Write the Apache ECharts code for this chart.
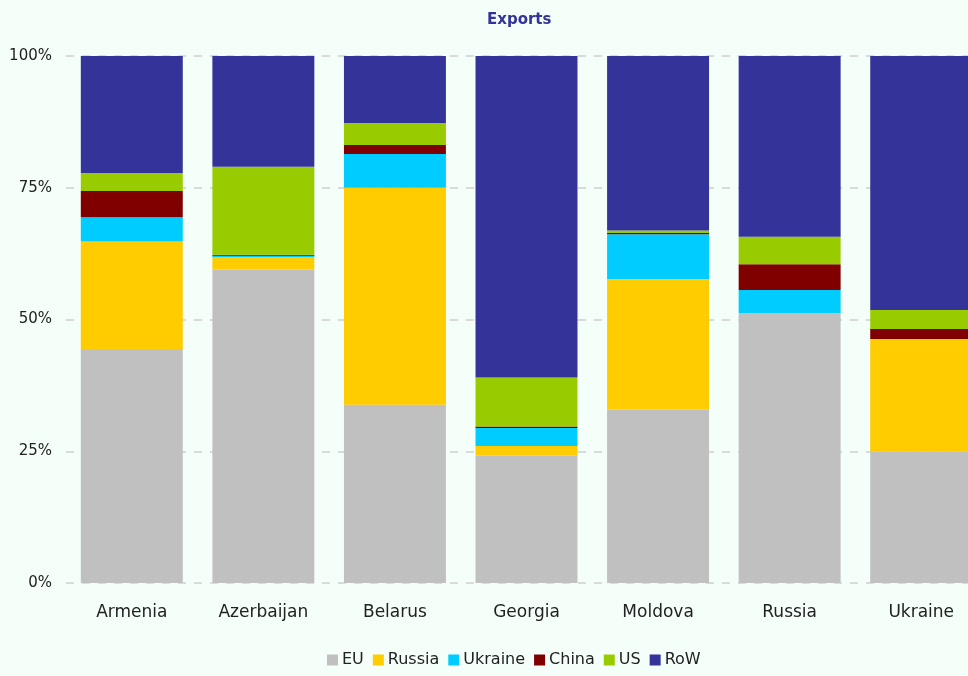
<!DOCTYPE html>
<html>
<head>
<meta charset="utf-8">
<script src="https://cdn.jsdelivr.net/npm/echarts@6/dist/echarts.min.js"></script>
<style>
html,body{margin:0;padding:0;background:#F5FFFA;}
#chart{width:968px;height:676px;}
</style>
</head>
<body>
<div id="chart"></div>
<script>
const categories = ['Armenia', 'Azerbaijan', 'Belarus', 'Georgia', 'Moldova', 'Russia', 'Ukraine'];
const seriesNames = ['EU', 'Russia', 'Ukraine', 'China', 'US', 'RoW'];
const eu      = [44.4, 59.5, 33.8, 24.2, 32.9, 51.2, 25.0];
const russia  = [20.4,  2.3, 41.2,  1.8, 24.8,  0.0, 21.3];
const ukraine = [ 4.6,  0.3,  6.4,  3.4,  8.5,  4.4,  0.0];
const china   = [ 5.0,  0.2,  1.7,  0.3,  0.2,  4.9,  1.9];
const us      = [ 3.4, 16.7,  4.2,  9.3,  0.5,  5.2,  3.6];
const row     = [22.2, 21.0, 12.7, 61.0, 33.1, 34.3, 48.2];
const yTicks = [0, 25, 50, 75, 100];
const colors = ['#C0C0C0', '#FFCC00', '#00CCFF', '#800000', '#99CC00', '#333399'];

const values = [eu, russia, ukraine, china, us, row];
const font = '"DejaVu Sans", sans-serif';
const chart = echarts.init(document.getElementById('chart'));
chart.setOption({
  backgroundColor: '#F5FFFA',
  animation: false,
  title: {
    text: 'Exports',
    left: 482, top: 8,
    textStyle: { color: '#333399', fontSize: 15, fontWeight: 'bold', fontFamily: font }
  },
  legend: {
    data: seriesNames,
    bottom: 3,
    left: 322,
    icon: 'rect',
    itemWidth: 11, itemHeight: 11, itemGap: 9,
    textStyle: { color: '#222', fontSize: 16, fontFamily: font, padding: [0, 0, 0, -1] }
  },
  grid: { left: 66, top: 56, width: 921, height: 527, containLabel: false, outerBoundsMode: 'none' },
  xAxis: {
    type: 'category',
    data: categories,
    axisLine: { show: false },
    axisTick: { show: false },
    axisLabel: { color: '#222', fontSize: 17, fontFamily: font, margin: 21 }
  },
  yAxis: {
    type: 'value',
    min: 0, max: 100, interval: 25,
    axisLine: { show: false },
    axisTick: { show: false },
    axisLabel: { color: '#222', fontSize: 15, fontFamily: font, margin: 14,
      formatter: v => yTicks.includes(v) ? v + '%' : '' },
    splitLine: { show: true, lineStyle: { color: '#D0D0D0', type: [8, 8], width: 1.5 } }
  },
  series: seriesNames.map((n, i) => ({
    name: n,
    type: 'bar',
    stack: 'total',
    barCategoryGap: '22.5%',
    itemStyle: { color: colors[i] },
    data: values[i]
  }))
});
</script>
</body>
</html>
